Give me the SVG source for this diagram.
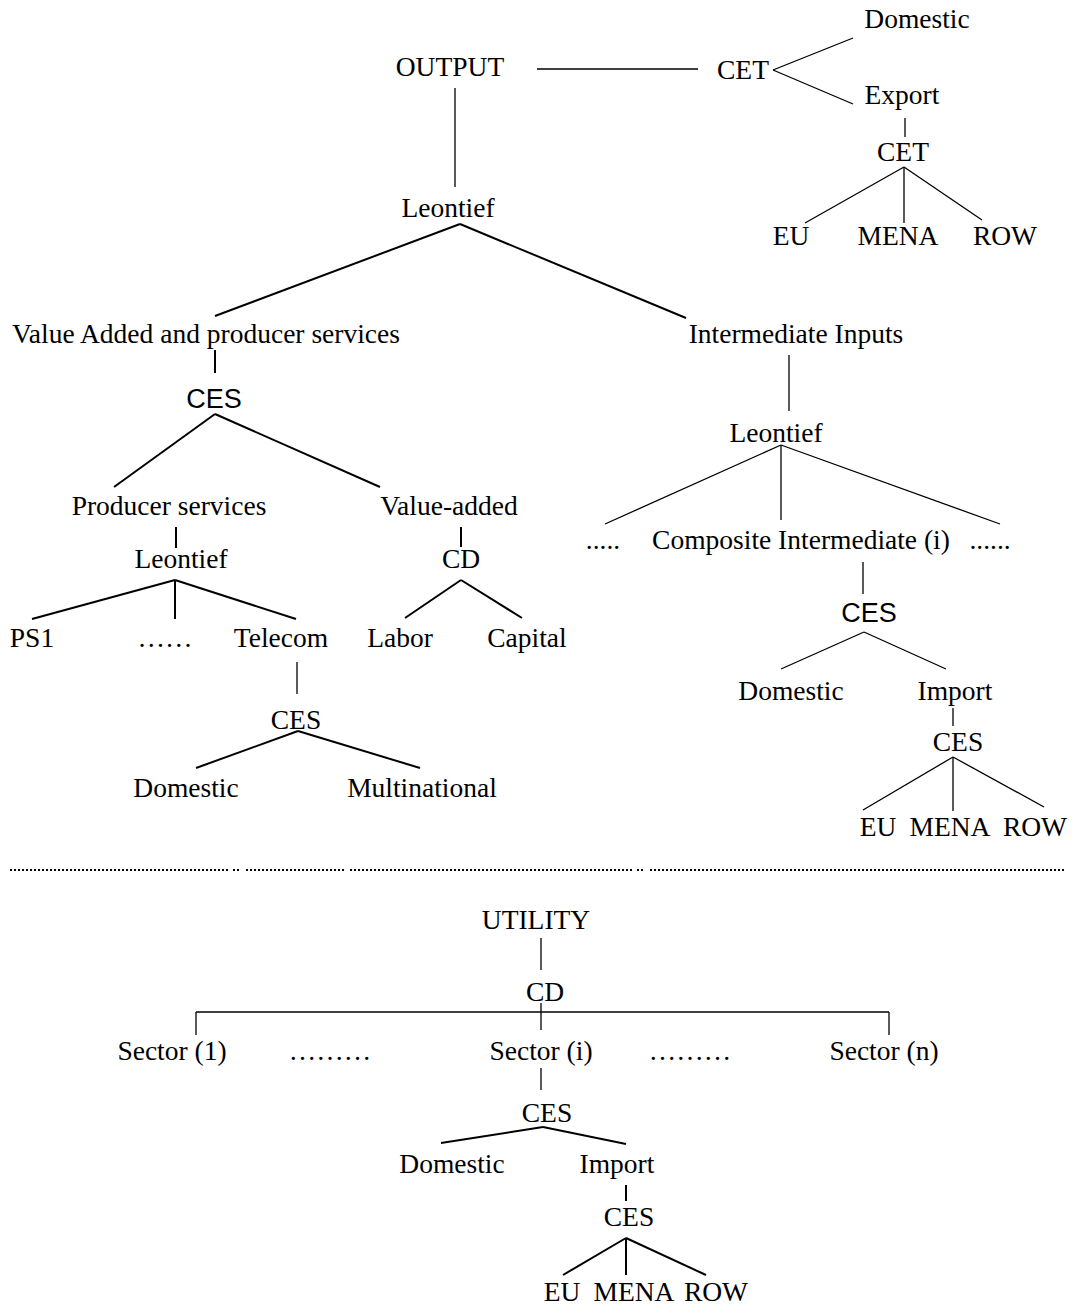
<svg xmlns="http://www.w3.org/2000/svg" width="1073" height="1309" viewBox="0 0 1073 1309">
<style>
text{font-family:"Liberation Serif","Times New Roman",serif;font-size:27.5px;fill:#000;text-anchor:middle}
text.sans{font-family:"Liberation Sans",Arial,sans-serif;font-size:27px}
line{stroke:#000;stroke-width:1.3;fill:none}
line.thick{stroke-width:2}
line.dot{stroke-width:2;stroke-dasharray:2 2}
</style>
<rect width="1073" height="1309" fill="#fff"/>
<g id="connectors">
<line x1="537" y1="69" x2="698" y2="69" stroke="#555"/>
<line x1="773" y1="70" x2="853" y2="38"/>
<line x1="773" y1="70" x2="853" y2="104"/>
<line x1="905" y1="118" x2="905" y2="137"/>
<line x1="904" y1="167" x2="805" y2="223"/>
<line x1="904" y1="167" x2="904" y2="223"/>
<line x1="904" y1="167" x2="982" y2="220"/>
<line x1="455" y1="88" x2="455" y2="187"/>
<line class="thick" x1="460" y1="224" x2="215" y2="316"/>
<line class="thick" x1="460" y1="224" x2="686" y2="318"/>
<line class="thick" x1="215" y1="350" x2="215" y2="373"/>
<line class="thick" x1="215" y1="414" x2="114" y2="487"/>
<line class="thick" x1="215" y1="414" x2="380" y2="487"/>
<line class="thick" x1="176" y1="527" x2="176" y2="548"/>
<line class="thick" x1="175" y1="580" x2="32" y2="619"/>
<line class="thick" x1="175" y1="580" x2="175" y2="619"/>
<line class="thick" x1="175" y1="580" x2="296" y2="619"/>
<line class="thick" x1="461" y1="527" x2="461" y2="547"/>
<line class="thick" x1="461" y1="580" x2="405" y2="618"/>
<line class="thick" x1="461" y1="580" x2="522" y2="618"/>
<line x1="297" y1="662" x2="297" y2="694"/>
<line class="thick" x1="298" y1="731" x2="196" y2="768"/>
<line class="thick" x1="298" y1="731" x2="420" y2="768"/>
<line x1="789" y1="355" x2="789" y2="411"/>
<line x1="781" y1="445" x2="605" y2="524"/>
<line x1="781" y1="445" x2="781" y2="520"/>
<line x1="781" y1="445" x2="1000" y2="524"/>
<line x1="863" y1="562" x2="863" y2="594"/>
<line x1="864" y1="632" x2="781" y2="669"/>
<line x1="864" y1="632" x2="946" y2="669"/>
<line x1="953" y1="708" x2="953" y2="726"/>
<line x1="953" y1="757" x2="863" y2="810"/>
<line x1="953" y1="757" x2="953" y2="811"/>
<line x1="953" y1="757" x2="1044" y2="807"/>
<line x1="541" y1="938" x2="541" y2="970"/>
<line x1="541" y1="1003" x2="541" y2="1030"/>
<line x1="196" y1="1012" x2="889" y2="1012"/>
<line x1="196" y1="1012" x2="196" y2="1035"/>
<line x1="889" y1="1012" x2="889" y2="1035"/>
<line x1="541" y1="1068" x2="541" y2="1090"/>
<line class="thick" x1="543" y1="1127" x2="441" y2="1143"/>
<line class="thick" x1="543" y1="1127" x2="626" y2="1144"/>
<line class="thick" x1="626" y1="1185" x2="626" y2="1201"/>
<line class="thick" x1="626" y1="1238" x2="563" y2="1275"/>
<line class="thick" x1="626" y1="1238" x2="626" y2="1275"/>
<line class="thick" x1="626" y1="1238" x2="706" y2="1275"/>
</g>
<g id="separator">
<line class="dot" x1="10" y1="870" x2="228" y2="870"/>
<line class="dot" x1="233" y1="870" x2="241" y2="870"/>
<line class="dot" x1="246" y1="870" x2="345" y2="870"/>
<line class="dot" x1="350" y1="870" x2="632" y2="870"/>
<line class="dot" x1="637" y1="870" x2="645" y2="870"/>
<line class="dot" x1="650" y1="870" x2="1065" y2="870"/>
</g>
<g id="n-domestic-top"><text x="917" y="28">Domestic</text></g>
<g id="n-output"><text x="450" y="76">OUTPUT</text></g>
<g id="n-cet1"><text x="743" y="79">CET</text></g>
<g id="n-export"><text x="902" y="104">Export</text></g>
<g id="n-cet2"><text x="903" y="161">CET</text></g>
<g id="n-eu-top"><text x="791" y="245">EU</text></g>
<g id="n-mena-top"><text x="898" y="245">MENA</text></g>
<g id="n-row-top"><text x="1005" y="245">ROW</text></g>
<g id="n-leontief-top"><text x="448" y="217">Leontief</text></g>
<g id="n-va"><text x="206" y="343">Value Added and producer services</text></g>
<g id="n-ii"><text x="796" y="343">Intermediate Inputs</text></g>
<g id="n-ces-va"><text class="sans" x="214" y="408">CES</text></g>
<g id="n-ps"><text x="169" y="515">Producer services</text></g>
<g id="n-vadded"><text x="449" y="515">Value-added</text></g>
<g id="n-leontief-ps"><text x="181" y="568">Leontief</text></g>
<g id="n-cd-va"><text x="461" y="568">CD</text></g>
<g id="n-ps1"><text x="32" y="647">PS1</text></g>
<g id="n-ps-dots"><text x="165" y="647">……</text></g>
<g id="n-telecom"><text x="281" y="647">Telecom</text></g>
<g id="n-labor"><text x="400" y="647">Labor</text></g>
<g id="n-capital"><text x="527" y="647">Capital</text></g>
<g id="n-ces-telecom"><text x="296" y="729">CES</text></g>
<g id="n-domestic-tel"><text x="186" y="797">Domestic</text></g>
<g id="n-multinational"><text x="422" y="797">Multinational</text></g>
<g id="n-leontief-ii"><text x="776" y="442">Leontief</text></g>
<g id="n-dots-l"><text x="603" y="549">.....</text></g>
<g id="n-composite"><text x="801" y="549">Composite Intermediate (i)</text></g>
<g id="n-dots-r"><text x="990" y="549">......</text></g>
<g id="n-ces-comp"><text class="sans" x="869" y="622">CES</text></g>
<g id="n-domestic-comp"><text x="791" y="700">Domestic</text></g>
<g id="n-import-comp"><text x="955" y="700">Import</text></g>
<g id="n-ces-imp"><text x="958" y="751">CES</text></g>
<g id="n-eu-mid"><text x="878" y="836">EU</text></g>
<g id="n-mena-mid"><text x="950" y="836">MENA</text></g>
<g id="n-row-mid"><text x="1035" y="836">ROW</text></g>
<g id="n-utility"><text x="536" y="929">UTILITY</text></g>
<g id="n-cd-util"><text x="545" y="1001">CD</text></g>
<g id="n-sector1"><text x="172" y="1060">Sector (1)</text></g>
<g id="n-dots-b1"><text x="330" y="1060">………</text></g>
<g id="n-sectori"><text x="541" y="1060">Sector (i)</text></g>
<g id="n-dots-b2"><text x="690" y="1060">………</text></g>
<g id="n-sectorn"><text x="884" y="1060">Sector (n)</text></g>
<g id="n-ces-sec"><text x="547" y="1122">CES</text></g>
<g id="n-domestic-b"><text x="452" y="1173">Domestic</text></g>
<g id="n-import-b"><text x="617" y="1173">Import</text></g>
<g id="n-ces-b"><text x="629" y="1226">CES</text></g>
<g id="n-eu-b"><text x="562" y="1301">EU</text></g>
<g id="n-mena-b"><text x="634" y="1301">MENA</text></g>
<g id="n-row-b"><text x="716" y="1301">ROW</text></g>
</svg>
